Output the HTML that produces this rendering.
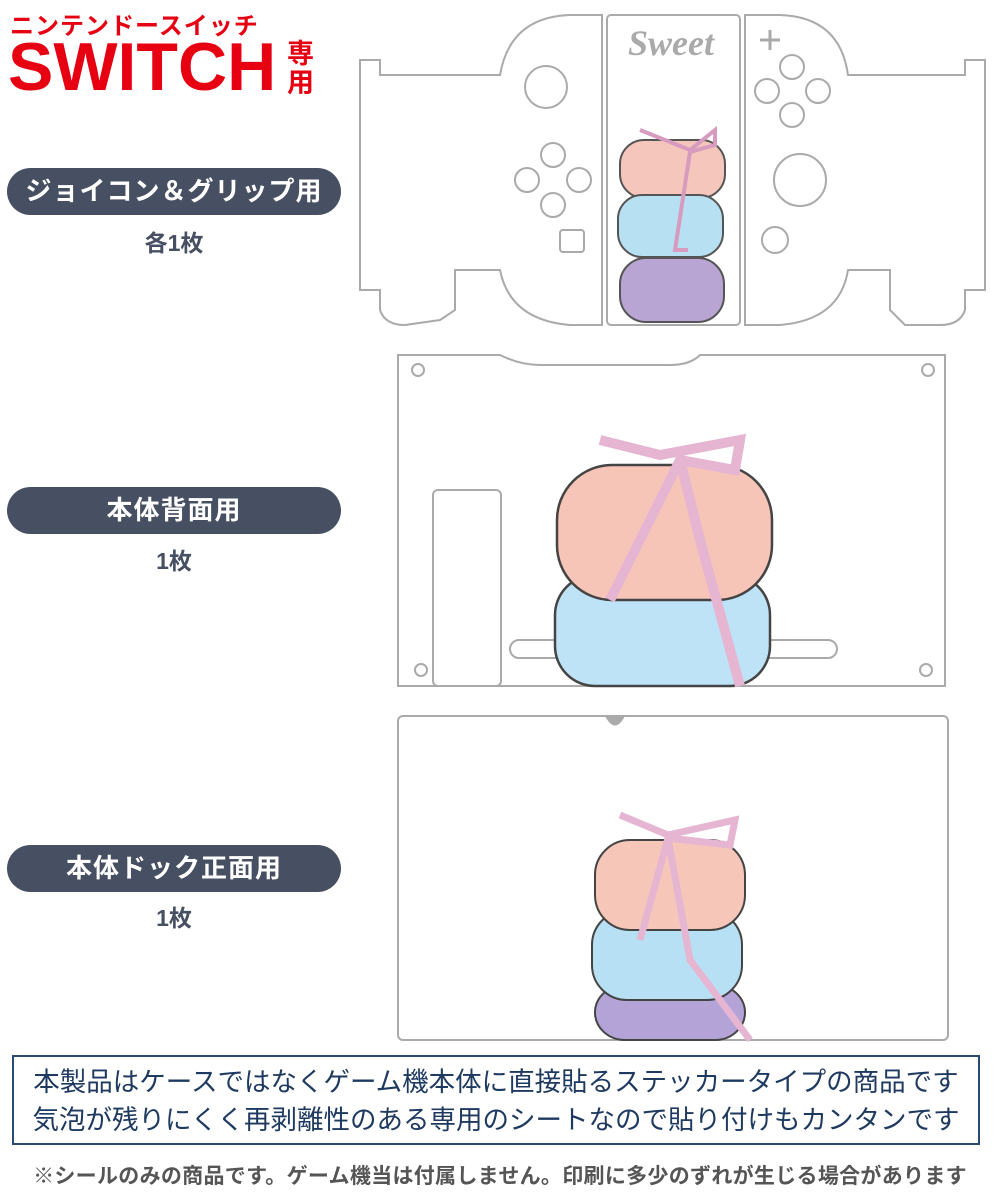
<!DOCTYPE html>
<html><head><meta charset="utf-8"><style>
body{margin:0;width:1000px;height:1200px;background:#fff;position:relative;overflow:hidden;font-family:"Liberation Sans","Noto Sans CJK JP",sans-serif;}
.a{position:absolute;}
.pill{position:absolute;left:7px;width:334px;height:47px;border-radius:24px;background:#474f62;color:#fff;font-weight:bold;font-size:26px;text-align:center;line-height:47px;letter-spacing:1px;}
.cnt{position:absolute;left:7px;width:334px;text-align:center;font-size:23px;font-weight:bold;color:#474f62;}
</style></head><body>
<div class="a" style="left:10px;top:6px;font-size:24px;font-weight:bold;color:#e60012;letter-spacing:1px;">ニンテンドースイッチ</div>
<div class="a" style="left:8px;top:34px;font-size:68px;font-weight:bold;color:#e60012;line-height:66px;letter-spacing:0px;">SWITCH</div>
<div class="a" style="left:287px;top:40px;font-size:27px;font-weight:bold;color:#e60012;line-height:29px;">専<br>用</div>

<div class="pill" style="top:168px;">ジョイコン＆グリップ用</div>
<div class="cnt" style="top:224px;">各1枚</div>
<div class="pill" style="top:487px;">本体背面用</div>
<div class="cnt" style="top:542px;">1枚</div>
<div class="pill" style="top:845px;">本体ドック正面用</div>
<div class="cnt" style="top:899px;">1枚</div>

<svg class="a" style="left:0;top:0" width="1000" height="1050" viewBox="0 0 1000 1050">
<g fill="none" stroke="#aaa" stroke-width="2">
<path d="M360 60 L380 60 L380 75 L500 75 Q510 17 570 15 L602 15 L602 325 L570 325 Q510 320 500 270 L455 270 L455 310 L440 320 L405 325 Q385 325 380 310 L380 290 L360 290 Z"/>
<rect x="607" y="15" width="133" height="310" rx="4"/>
<path d="M745 15 L780 15 Q840 17 848 75 L965 75 L965 60 L985 60 L985 290 L965 290 L965 310 Q960 325 940 325 L905 325 L890 310 L890 270 L848 270 Q840 320 780 325 L745 325 Z"/>
<circle cx="546" cy="87" r="21"/><circle cx="800" cy="180" r="26"/>
<circle cx="553" cy="155" r="12"/><circle cx="527" cy="180" r="12"/><circle cx="579" cy="180" r="12"/><circle cx="553" cy="205" r="12"/>
<circle cx="792" cy="67" r="12"/><circle cx="767" cy="91" r="12"/><circle cx="818" cy="91" r="12"/><circle cx="792" cy="115" r="12"/>
<rect x="560" y="230" width="24" height="22" rx="3"/><circle cx="775" cy="240" r="13"/>
<path d="M760 40h20M770 30v20" stroke-width="3"/>
<path d="M398 355 L500 355 Q520 365 540 365 L670 365 Q690 365 700 355 L945 355 L945 686 L398 686 Z"/>
<circle cx="418" cy="370" r="6"/><circle cx="928" cy="370" r="6"/><circle cx="421" cy="670" r="6"/><circle cx="926" cy="670" r="6"/>
<rect x="433" y="490" width="68" height="196" rx="5"/>
<rect x="510" y="640" width="148" height="18" rx="9"/><rect x="695" y="640" width="142" height="18" rx="9"/>
<rect x="398" y="716" width="550" height="324" rx="5"/>
</g>
<text x="628" y="55" font-family="Liberation Serif,serif" font-style="italic" font-weight="bold" font-size="36" fill="#aaa">Sweet</text>
<path d="M605 716 Q615 735 625 716 Z" fill="#aaa"/>
<g stroke="#555" stroke-width="2">
<rect x="620" y="140" width="105" height="58" rx="24" fill="#f5c6bb"/>
<rect x="618" y="195" width="105" height="62" rx="24" fill="#b7e0f2"/>
<rect x="620" y="258" width="104" height="64" rx="26" fill="#b8a5d4"/>
</g>
<path d="M640 130 L690 150 L715 130 L715 145 L690 152 L675 250 L688 250" stroke="#d79bbf" stroke-width="4" fill="none"/>
<g stroke="#444" stroke-width="2.5">
<rect x="555" y="575" width="215" height="111" rx="40" fill="#bfe3f6"/>
<rect x="557" y="465" width="215" height="135" rx="55" fill="#f7c4b8"/>
</g>
<path d="M600 440 L660 455 L740 440 L735 470 L680 460 L650 520 L610 600 M680 460 L700 540 L740 686" stroke="#e6b5d2" stroke-width="10" fill="none"/>
<g stroke="#444" stroke-width="2">
<rect x="595" y="985" width="150" height="55" rx="30" fill="#b3a3d6"/>
<rect x="592" y="910" width="150" height="90" rx="35" fill="#b8e0f4"/>
<rect x="595" y="840" width="150" height="90" rx="35" fill="#f6c6b9"/>
</g>
<path d="M620 815 L668 835 L735 820 L730 845 L668 838 L640 940 M668 838 L690 960 L750 1040" stroke="#e6b5d2" stroke-width="7" fill="none"/>
</svg>

<div class="a" style="left:12px;top:1055px;width:968px;height:90px;border:2px solid #2c4a6e;box-sizing:border-box;text-align:center;color:#1f3a60;font-size:26.5px;line-height:38px;padding-top:6px;white-space:nowrap;">本製品はケースではなくゲーム機本体に直接貼るステッカータイプの商品です<br>気泡が残りにくく再剥離性のある専用のシートなので貼り付けもカンタンです</div>
<div class="a" style="left:0;top:1160px;width:1000px;text-align:center;font-size:21px;letter-spacing:0.3px;color:#555;font-weight:bold;white-space:nowrap;">※シールのみの商品です。ゲーム機当は付属しません。印刷に多少のずれが生じる場合があります</div>
</body></html>
